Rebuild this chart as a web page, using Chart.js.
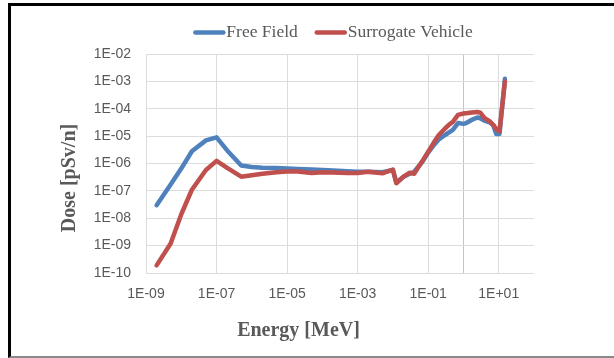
<!DOCTYPE html>
<html>
<head>
<meta charset="utf-8">
<script src="https://cdn.jsdelivr.net/npm/chart.js@4.4.1/dist/chart.umd.min.js"></script>
<style>
  html, body { margin: 0; padding: 0; background: #fff; }
  #wrap { position: relative; width: 614px; height: 358px; overflow: hidden; }
  #frame {
    position: absolute; left: 8px; top: 3px; width: 700px; height: 350px;
    border-left: 3px solid #000; border-top: 3px solid #000; border-bottom: 2px solid #8a8a8a;
    pointer-events: none;
  }
  canvas { position: absolute; left: 0; top: 0; }
</style>
</head>
<body>
<div id="wrap">
  <canvas id="chart" width="614" height="358"></canvas>
  <div id="frame"></div>
</div>
<script>
// energy bins (MeV)
const energy = [2e-9, 5e-9, 1e-8, 2e-8, 5e-8, 1e-7, 2e-7, 5e-7, 1e-6, 2e-6, 5e-6, 1e-5, 2e-5, 5e-5,
  1e-4, 2e-4, 5e-4, 1e-3, 2e-3, 5e-3, 1e-2, 1.25e-2, 2e-2, 3e-2, 4e-2, 7e-2, 0.1, 0.15, 0.2, 0.3,
  0.4, 0.5, 0.7, 1, 1.2, 1.7, 2.5, 3, 4, 5.5, 7, 8.5, 10.5, 15];

// dose [pSv/n]
const freeField = [3.0e-8, 1.7e-7, 6.5e-7, 2.8e-6, 7e-6, 9e-6, 3e-6, 8.5e-7, 7.5e-7, 7e-7, 6.8e-7, 6.6e-7, 6.3e-7, 6e-7,
  5.8e-7, 5.5e-7, 5.2e-7, 5e-7, 5e-7, 4.8e-7, 5.8e-7, 2.0e-7, 3.3e-7, 4.2e-7, 5e-7, 1.2e-6, 2.5e-6, 5e-6, 7.5e-6, 1.1e-5,
  1.4e-5, 1.7e-5, 3e-5, 2.8e-5, 3e-5, 3.9e-5, 4.8e-5, 4.5e-5, 3.6e-5, 3.2e-5, 2.5e-5, 1.2e-5, 1.2e-5, 1.25e-3];

const surrogate = [1.9e-10, 1.2e-9, 1.4e-8, 1.1e-7, 5.8e-7, 1.25e-6, 6.9e-7, 3.3e-7, 3.7e-7, 4.2e-7, 4.8e-7, 5.1e-7, 5.1e-7, 4.5e-7,
  4.8e-7, 4.7e-7, 4.5e-7, 4.5e-7, 5e-7, 4.4e-7, 6e-7, 1.9e-7, 3.3e-7, 4.6e-7, 4.2e-7, 1.3e-6, 2.7e-6, 6.3e-6, 1.1e-5, 1.9e-5,
  2.7e-5, 3.3e-5, 6e-5, 6.7e-5, 6.9e-5, 7.3e-5, 7.6e-5, 7.2e-5, 4.5e-5, 3.5e-5, 2.6e-5, 1.8e-5, 1.5e-5, 1e-3];

const xTicks = [1e-9, 1e-7, 1e-5, 1e-3, 1e-1, 1e0, 1e1];
const yTicks = [1e-10, 1e-9, 1e-8, 1e-7, 1e-6, 1e-5, 1e-4, 1e-3, 1e-2];

const sci = v => {
  const e = Math.round(Math.log10(v));
  return '1E' + (e < 0 ? '-' : '+') + String(Math.abs(e)).padStart(2, '0');
};

const gray = '#595959';
const tickFont = { family: 'Liberation Sans', size: 14 };

// legend + axis titles drawn the way Excel lays them out
const excelText = {
  id: 'excelText',
  afterDraw(chart) {
    const ctx = chart.ctx;
    ctx.save();
    ctx.font = '17.5px "Liberation Serif"';
    ctx.textBaseline = 'middle';
    const items = chart.data.datasets.map(d => ({ text: d.label, color: d.borderColor, w: ctx.measureText(d.label).width }));
    const sample = 32, spacing = 17;
    const total = items.reduce((s, it) => s + sample + 1 + it.w, 0) + spacing * (items.length - 1);
    let x = 333 - total / 2;
    items.forEach(it => {
      ctx.strokeStyle = it.color;
      ctx.lineWidth = 4.5;
      ctx.lineCap = 'round';
      ctx.beginPath();
      ctx.moveTo(x + 2, 32.5);
      ctx.lineTo(x + sample - 2, 32.5);
      ctx.stroke();
      ctx.fillStyle = gray;
      ctx.fillText(it.text, x + sample + 1, 32);
      x += sample + 1 + it.w + spacing;
    });

    ctx.font = 'bold 20px "Liberation Serif"';
    ctx.textAlign = 'center';
    ctx.fillText('Energy [MeV]', 298.5, 331);
    ctx.translate(70, 178);
    ctx.rotate(-Math.PI / 2);
    ctx.fillText('Dose [pSv/n]', 0, 0);
    ctx.restore();
  }
};

new Chart(document.getElementById('chart'), {
  type: 'line',
  data: {
    datasets: [
      {
        label: 'Free Field',
        data: energy.map((e, i) => ({ x: e, y: freeField[i] })),
        borderColor: '#4F81BD',
        backgroundColor: '#4F81BD',
        borderWidth: 4.5,
        order: 2,
      },
      {
        label: 'Surrogate Vehicle',
        data: energy.map((e, i) => ({ x: e, y: surrogate[i] })),
        borderColor: '#C0504D',
        backgroundColor: '#C0504D',
        borderWidth: 4.5,
        order: 1,
      },
    ],
  },
  options: {
    responsive: false,
    animation: false,
    layout: { padding: { top: 54, right: 80, bottom: 0, left: 0 } },
    elements: {
      point: { radius: 0 },
      line: { tension: 0, borderCapStyle: 'round', borderJoinStyle: 'round' },
    },
    plugins: {
      legend: { display: false },
      tooltip: { enabled: false },
    },
    scales: {
      x: {
        type: 'logarithmic',
        min: 1e-9,
        max: 1e2,
        afterBuildTicks: s => { s.ticks = xTicks.map(v => ({ value: v })); },
        afterFit: s => { s.height = 85; },
        grid: {
          color: c => (c.tick && c.tick.value === 1 ? '#c4c4c4' : '#dcdcdc'),
          drawTicks: false,
        },
        border: { display: false },
        ticks: {
          padding: 13,
          color: gray,
          font: tickFont,
          autoSkip: false,
          maxRotation: 0,
          callback: v => (v === 1 ? '' : sci(v)),
        },
      },
      y: {
        type: 'logarithmic',
        min: 1e-10,
        max: 1e-2,
        afterBuildTicks: s => { s.ticks = yTicks.map(v => ({ value: v })); },
        afterFit: s => { s.width = 146; },
        grid: { color: '#dcdcdc', drawTicks: false },
        border: { display: false },
        ticks: {
          padding: 15,
          color: gray,
          font: tickFont,
          callback: v => sci(v),
        },
      },
    },
  },
  plugins: [excelText],
});
</script>
</body>
</html>
